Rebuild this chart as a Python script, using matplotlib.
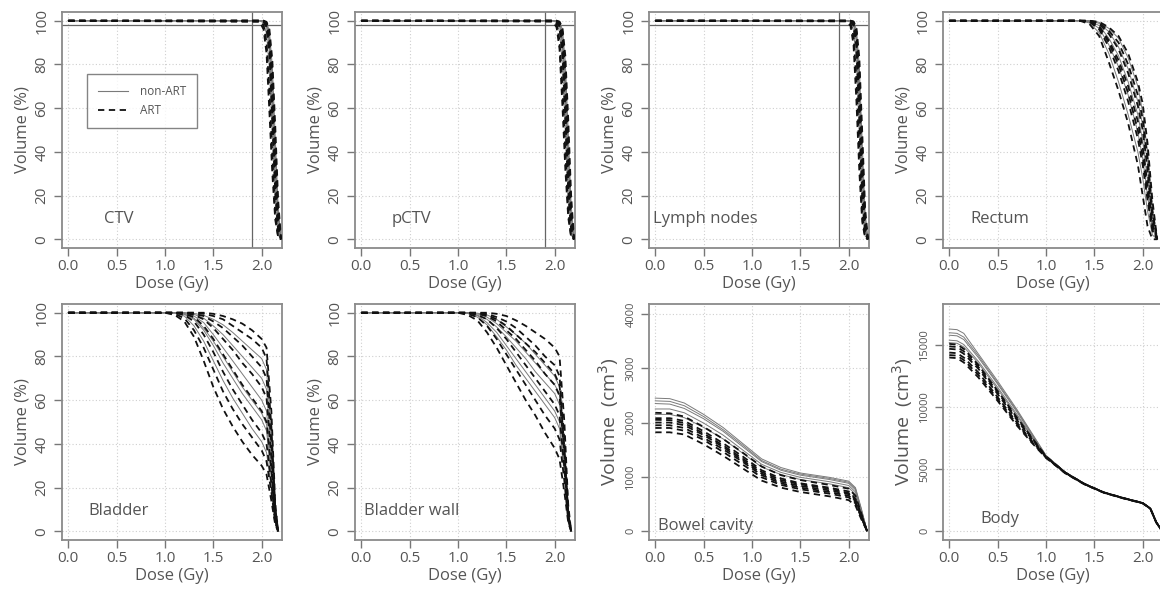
import matplotlib
matplotlib.use("Agg")
import matplotlib.pyplot as plt
from matplotlib.lines import Line2D

plt.rcParams['font.family'] = ['Open Sans', 'DejaVu Sans']

TXT = '#555555'
SPINE = '#8a8a8a'

# ---------------- data ----------------
X_TICKS = [0.0, 0.5, 1.0, 1.5, 2.0]
X_TICK_LABELS = ['0.0', '0.5', '1.0', '1.5', '2.0']
PCT_TICKS = [0, 20, 40, 60, 80, 100]
BOWEL_TICKS = [0, 1000, 2000, 3000, 4000]
BODY_TICKS = [0, 5000, 10000, 15000]

TARGET_DOSE = [0.0, 1.98, 2.02, 2.05, 2.08, 2.11, 2.14, 2.17, 2.20]
CTV_ART = [
    [100, 100, 99.5, 97, 85, 55, 22, 4, 0],
    [100, 100, 100, 98.5, 91, 66, 32, 8, 0],
    [100, 99.8, 98, 90, 68, 38, 12, 1, 0],
    [100, 100, 100, 99, 94, 75, 42, 12, 0],
    [100, 100, 99.8, 97.5, 88, 60, 27, 6, 0],
    [100, 99.5, 96, 85, 58, 30, 9, 1, 0],
    [100, 100, 100, 99.5, 96, 82, 52, 18, 0],
]
CTV_NONART = [
    [100, 100, 99.6, 97.5, 87, 58, 24, 5, 0],
    [100, 100, 99, 94, 78, 47, 17, 2, 0],
    [100, 100, 100, 99, 93, 72, 39, 10, 0],
    [100, 100, 99.8, 98, 90, 63, 30, 7, 0],
    [100, 100, 100, 99.5, 95, 79, 47, 15, 0],
]
PCTV_ART = [
    [100, 100, 99.6, 97.5, 87, 57, 23, 4, 0],
    [100, 100, 100, 98.8, 92, 68, 34, 9, 0],
    [100, 99.8, 98.5, 91, 70, 40, 13, 1, 0],
    [100, 100, 100, 99.2, 95, 77, 45, 13, 0],
    [100, 100, 99.8, 97, 86, 58, 25, 5, 0],
    [100, 99.6, 97, 87, 61, 32, 10, 1, 0],
    [100, 100, 100, 99.6, 97, 84, 55, 20, 0],
]
PCTV_NONART = [
    [100, 100, 99.7, 98, 89, 61, 26, 5, 0],
    [100, 100, 99.2, 95, 80, 49, 18, 2, 0],
    [100, 100, 100, 99.2, 94, 74, 41, 11, 0],
    [100, 100, 99.9, 98.3, 91, 65, 32, 8, 0],
    [100, 100, 100, 99.6, 96, 81, 49, 16, 0],
]
LN_ART = [
    [100, 100, 99.7, 98, 88, 56, 20, 3, 0],
    [100, 100, 100, 99, 93, 67, 30, 6, 0],
    [100, 99.9, 98.8, 93, 73, 40, 11, 1, 0],
    [100, 100, 100, 99.4, 95, 76, 40, 9, 0],
    [100, 100, 99.9, 98, 90, 61, 25, 4, 0],
    [100, 99.7, 97.5, 89, 63, 31, 8, 0.5, 0],
    [100, 100, 100, 99.7, 97, 83, 49, 14, 0],
]
LN_NONART = [
    [100, 100, 99.8, 98.3, 90, 59, 22, 4, 0],
    [100, 100, 99.3, 95.5, 81, 48, 15, 1.5, 0],
    [100, 100, 100, 99.3, 94, 72, 36, 8, 0],
    [100, 100, 99.9, 98.6, 92, 64, 28, 5, 0],
    [100, 100, 100, 99.7, 96, 79, 44, 12, 0],
]

RECTUM_DOSE = [0.0, 1.35, 1.45, 1.55, 1.65, 1.75, 1.85, 1.95, 2.0, 2.05, 2.1, 2.15]
RECTUM_ART = [
    [100, 100, 98.5, 93, 81, 68, 53, 34, 20, 6, 0, 0],
    [100, 100, 100, 99.5, 97, 93, 85, 72, 62, 44, 18, 0],
    [100, 100, 99.5, 96, 88, 77, 63, 46, 34, 18, 4, 0],
    [100, 100, 99.8, 97.5, 91, 82, 70, 54, 42, 25, 7, 0],
    [100, 100, 100, 98.5, 94, 87, 76, 61, 50, 32, 10, 0],
    [100, 100, 100, 99, 95.5, 90, 80, 66, 55, 37, 13, 0],
    [100, 100, 99.7, 97, 90, 80, 67, 50, 38, 21, 5, 0],
]
RECTUM_NONART = [
    [100, 100, 99.5, 96.5, 89, 79, 66, 49, 37, 20, 5, 0],
    [100, 100, 100, 98.8, 95, 88, 78, 63, 52, 34, 11, 0],
    [100, 100, 99.8, 97.8, 92, 84, 72, 57, 45, 27, 8, 0],
    [100, 100, 99, 94.5, 85, 72, 57, 40, 28, 13, 2, 0],
    [100, 100, 100, 99.3, 96.5, 92, 83, 70, 58, 40, 15, 0],
]

BLADDER_DOSE = [0.0, 1.0, 1.1, 1.2, 1.3, 1.4, 1.5, 1.6, 1.7, 1.8, 1.9, 2.0, 2.05, 2.1, 2.14, 2.17]
BLADDER_ART = [
    [100, 100, 99, 96, 89, 78, 66, 56, 48, 41, 35, 30, 26, 14, 3, 0],
    [100, 100, 99.5, 97.5, 92, 84, 74, 64, 56, 49, 43, 37, 32, 18, 4, 0],
    [100, 100, 100, 99, 96, 90, 82, 73, 65, 58, 51, 45, 40, 22, 5, 0],
    [100, 100, 100, 99.5, 98, 94, 88, 81, 74, 67, 61, 55, 50, 28, 6, 0],
    [100, 100, 100, 100, 99, 97, 93, 88, 83, 77, 72, 66, 61, 34, 8, 0],
    [100, 100, 100, 100, 99.5, 98.5, 96, 93, 89, 85, 80, 75, 70, 40, 9, 0],
    [100, 100, 100, 100, 100, 99.5, 98.5, 97, 94, 91, 88, 84, 79, 48, 11, 0],
    [100, 100, 100, 100, 100, 100, 99.5, 98.5, 97, 95, 92, 88, 84, 55, 13, 0],
]
BLADDER_NONART = [
    [100, 100, 99.8, 98.5, 94, 87, 78, 69, 61, 54, 47, 41, 36, 20, 4, 0],
    [100, 100, 100, 99.2, 97, 92, 85, 77, 70, 63, 57, 51, 46, 25, 6, 0],
    [100, 100, 100, 99.7, 98.5, 95.5, 90, 84, 78, 72, 66, 60, 55, 31, 7, 0],
    [100, 100, 100, 100, 99.3, 97.5, 94, 90, 85, 80, 75, 70, 65, 37, 8, 0],
    [100, 100, 100, 99.5, 97.5, 93, 87, 80, 73, 66, 60, 54, 49, 27, 6, 0],
    [100, 100, 100, 100, 99.7, 98.8, 97, 94.5, 91, 87, 83, 79, 74, 44, 10, 0],
]
BWALL_ART = [
    [100, 100, 99, 96.5, 91, 84, 76, 68, 60, 53, 45, 38, 33, 18, 4, 0],
    [100, 100, 99.5, 98, 94, 88, 81, 74, 67, 60, 53, 47, 42, 23, 5, 0],
    [100, 100, 100, 99, 97, 93, 88, 82, 76, 70, 64, 58, 53, 29, 6, 0],
    [100, 100, 100, 99.5, 98.5, 96, 92, 88, 83, 78, 72, 67, 62, 35, 8, 0],
    [100, 100, 100, 100, 99.5, 98, 96, 93, 89, 85, 80, 76, 71, 42, 9, 0],
    [100, 100, 100, 100, 100, 99.5, 98.5, 96.5, 94, 91, 88, 84, 80, 50, 12, 0],
    [100, 100, 100, 99.8, 99, 97, 94, 90, 86, 82, 77, 72, 67, 38, 8, 0],
]
BWALL_NONART = [
    [100, 100, 99.7, 98, 94.5, 89, 83, 76, 70, 64, 58, 52, 47, 26, 6, 0],
    [100, 100, 100, 99, 97, 93.5, 89, 84, 79, 73, 68, 63, 58, 32, 7, 0],
    [100, 100, 99.8, 98.7, 95.5, 91, 85, 79, 73, 67, 61, 55, 50, 28, 6, 0],
    [100, 100, 100, 99.5, 98, 95, 91, 87, 82, 77, 72, 67, 63, 36, 8, 0],
    [100, 100, 100, 99.8, 99, 97, 93.5, 90, 86, 81, 76, 71, 66, 39, 9, 0],
]

BOWEL_DOSE = [0.0, 0.15, 0.3, 0.5, 0.7, 0.9, 1.1, 1.3, 1.5, 1.8, 2.0, 2.07, 2.13, 2.19]
BOWEL_ART = [
    [1820, 1820, 1780, 1600, 1390, 1160, 930, 800, 720, 640, 570, 470, 220, 0],
    [1900, 1900, 1850, 1680, 1460, 1230, 990, 850, 770, 690, 620, 510, 250, 0],
    [2000, 2000, 1950, 1770, 1550, 1310, 1060, 910, 830, 750, 680, 560, 280, 0],
    [2080, 2080, 2030, 1840, 1620, 1380, 1120, 970, 880, 800, 730, 600, 300, 0],
    [2180, 2170, 2110, 1920, 1700, 1450, 1190, 1030, 940, 850, 780, 650, 330, 0],
    [1950, 1950, 1900, 1720, 1510, 1280, 1030, 880, 800, 720, 650, 540, 260, 0],
    [2050, 2045, 1990, 1800, 1580, 1340, 1090, 940, 860, 780, 700, 580, 290, 0],
]
BOWEL_NONART = [
    [2450, 2440, 2360, 2150, 1910, 1620, 1330, 1170, 1070, 990, 920, 800, 420, 0],
    [2350, 2340, 2260, 2070, 1840, 1560, 1280, 1120, 1030, 950, 880, 760, 390, 0],
    [2250, 2250, 2180, 1990, 1770, 1500, 1230, 1080, 990, 910, 840, 720, 370, 0],
    [2150, 2150, 2090, 1910, 1700, 1440, 1180, 1040, 950, 870, 800, 680, 350, 0],
    [2400, 2390, 2310, 2110, 1870, 1590, 1300, 1140, 1050, 970, 900, 780, 400, 0],
]

BODY_DOSE = [0.0, 0.08, 0.15, 0.3, 0.5, 0.7, 0.85, 1.0, 1.2, 1.4, 1.6, 1.8, 2.0, 2.08, 2.14, 2.2]
BODY_ART = [
    [14000, 13950, 13600, 12400, 10500, 8500, 7150, 5900, 4650, 3750, 3080, 2630, 2230, 1780, 690, 0],
    [14400, 14350, 14000, 12800, 10800, 8750, 7300, 5950, 4680, 3770, 3090, 2640, 2240, 1790, 700, 0],
    [14700, 14650, 14300, 13100, 11050, 8950, 7450, 5980, 4700, 3780, 3100, 2650, 2250, 1800, 700, 0],
    [15100, 15050, 14700, 13400, 11300, 9150, 7580, 6020, 4710, 3790, 3110, 2660, 2260, 1810, 710, 0],
    [14200, 14150, 13800, 12600, 10650, 8620, 7220, 5920, 4660, 3760, 3085, 2635, 2235, 1785, 695, 0],
    [14900, 14850, 14500, 13250, 11200, 9050, 7520, 6000, 4705, 3785, 3105, 2655, 2255, 1805, 705, 0],
]
BODY_NONART = [
    [16300, 16250, 15950, 14300, 12100, 9800, 7950, 6100, 4750, 3820, 3130, 2680, 2280, 1830, 720, 0],
    [15800, 15750, 15450, 14000, 11850, 9600, 7820, 6070, 4740, 3810, 3120, 2670, 2270, 1820, 715, 0],
    [15400, 15350, 15050, 13700, 11600, 9400, 7700, 6050, 4730, 3800, 3115, 2665, 2265, 1815, 712, 0],
    [16000, 15950, 15650, 14150, 11950, 9700, 7880, 6085, 4745, 3815, 3125, 2675, 2275, 1825, 718, 0],
    [15200, 15150, 14850, 13550, 11450, 9280, 7640, 6030, 4720, 3795, 3112, 2660, 2262, 1812, 710, 0],
]

PANELS = [
    ('CTV', TARGET_DOSE, CTV_NONART, CTV_ART, 'pct'),
    ('pCTV', TARGET_DOSE, PCTV_NONART, PCTV_ART, 'pct'),
    ('Lymph nodes', TARGET_DOSE, LN_NONART, LN_ART, 'pct'),
    ('Rectum', RECTUM_DOSE, RECTUM_NONART, RECTUM_ART, 'pct'),
    ('Bladder', BLADDER_DOSE, BLADDER_NONART, BLADDER_ART, 'pct'),
    ('Bladder wall', BLADDER_DOSE, BWALL_NONART, BWALL_ART, 'pct'),
    ('Bowel cavity', BOWEL_DOSE, BOWEL_NONART, BOWEL_ART, 'bowel'),
    ('Body', BODY_DOSE, BODY_NONART, BODY_ART, 'body'),
]
TARGETS = ['CTV', 'pCTV', 'Lymph nodes']
REF_DOSE = 1.9
REF_VOL = 98

# ---------------- figure ----------------
W, H = 1160, 594
fig = plt.figure(figsize=(W / 100, H / 100), dpi=100)

col_left = [62, 355, 649, 943]
row_top = [12, 304]
aw, ah = 220, 236

for i, (name, dose, nonart, art, kind) in enumerate(PANELS):
    r, c = divmod(i, 4)
    l = col_left[c] / W
    b = 1 - (row_top[r] + ah) / H
    ax = fig.add_axes([l, b, aw / W, ah / H])

    ax.set_xlim(-0.065, 2.21)
    if kind == 'pct':
        ax.set_ylim(-4, 104)
        yt = PCT_TICKS
        ylab = 'Volume (%)'
        ysize = 12
        ytsize = 11
        ly = 9.3
    elif kind == 'bowel':
        ax.set_ylim(-165, 4185)
        yt = BOWEL_TICKS
        ylab = 'Volume  (cm$^3$)'
        ysize = 14
        ytsize = 8
        ly = 90
    else:
        ax.set_ylim(-730, 18320)
        yt = BODY_TICKS
        ylab = 'Volume  (cm$^3$)'
        ysize = 14
        ytsize = 8
        ly = 1000

    # grid
    for xv in X_TICKS:
        ax.axvline(xv, color='#cfcfcf', lw=0.8, ls=(0, (1, 2)), zorder=0)
    for yv in yt:
        ax.axhline(yv, color='#cfcfcf', lw=0.8, ls=(0, (1, 2)), zorder=0)

    for v in nonart:
        ax.plot(dose, v, color='#7a7a7a', lw=0.7, ls='-', zorder=2)
    for v in art:
        ax.plot(dose, v, color='#111111', lw=1.3, ls=(0, (3.5, 2.5)), zorder=3)

    if name in TARGETS:
        ax.axvline(REF_DOSE, color='#666666', lw=0.9, zorder=1)
        ax.axhline(REF_VOL, color='#666666', lw=0.9, zorder=1)

    ax.set_xticks(X_TICKS)
    ax.set_xticklabels(X_TICK_LABELS)
    ax.set_yticks(yt)
    ax.set_yticklabels([str(t) for t in yt])
    ax.tick_params(axis='x', direction='out', length=6, width=1, color='#777777',
                   labelsize=11, labelcolor=TXT, pad=2)
    ax.tick_params(axis='y', direction='out', length=6, width=1, color='#777777',
                   labelsize=ytsize, labelcolor=TXT, pad=3, labelrotation=90)
    for lab in ax.get_yticklabels():
        lab.set_va('center')

    for s in ax.spines.values():
        s.set_color(SPINE)
        s.set_linewidth(1.3)

    ax.set_xlabel('Dose (Gy)', fontsize=12, color=TXT, labelpad=1)
    ax.set_ylabel(ylab, fontsize=ysize, color=TXT, labelpad=3)

    ax.text(0.52, ly, name, ha='center', va='center', fontsize=12, color=TXT, zorder=5)

    if i == 0:
        handles = [Line2D([], [], color='#7a7a7a', lw=0.8, ls='-'),
                   Line2D([], [], color='#111111', lw=1.3, ls=(0, (3.5, 2.5)))]
        leg = ax.legend(handles, ['non-ART', 'ART'], loc='upper left',
                        bbox_to_anchor=(0.114, 0.737), fontsize=8.5,
                        frameon=True, fancybox=False, edgecolor='#666666',
                        handlelength=2.6, borderpad=0.9, labelspacing=0.55,
                        handletextpad=1.0, borderaxespad=0)
        leg.get_frame().set_linewidth(1.0)
        for t in leg.get_texts():
            t.set_color(TXT)

fig.savefig('out.png', dpi=100)
